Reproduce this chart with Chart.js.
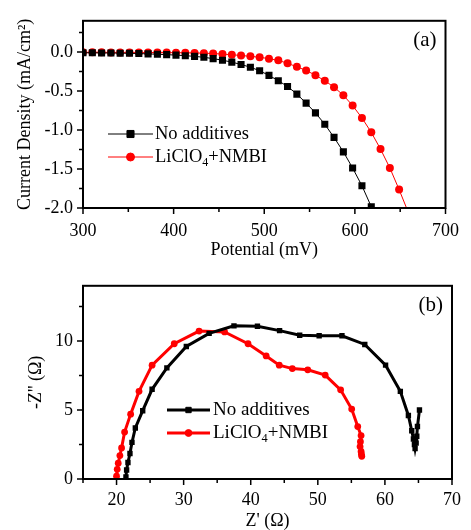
<!DOCTYPE html>
<html>
<head>
<meta charset="utf-8">
<script src="https://cdn.jsdelivr.net/npm/chart.js@4.4.0/dist/chart.umd.min.js"></script>
<style>
  html, body { margin: 0; padding: 0; background: #fff; }
  .panel { position: absolute; left: 0; width: 471px; height: 265px; }
  #jvPanel { top: 0; }
  #eisPanel { top: 265px; }
</style>
</head>
<body>
<div class="panel" id="jvPanel"><canvas id="jvChart" width="471" height="265"></canvas></div>
<div class="panel" id="eisPanel"><canvas id="eisChart" width="471" height="265"></canvas></div>
<script>
// J-V curves (a)
const jvPotential = [300.0, 310.3, 320.5, 330.8, 341.0, 351.3, 361.6, 371.8, 382.1, 392.3,
  402.6, 412.9, 423.1, 433.4, 443.6, 453.9, 464.2, 474.4, 484.7, 494.9,
  505.2, 515.5, 525.7, 536.0, 546.2, 556.5, 566.8, 577.0, 587.3, 597.5,
  607.8, 618.1, 628.3, 638.6, 648.8, 659.1];
const jvNoAdditives = [-0.010, -0.010, -0.012, -0.013, -0.015, -0.017, -0.020, -0.024, -0.029, -0.034,
  -0.040, -0.047, -0.056, -0.068, -0.085, -0.105, -0.130, -0.160, -0.195, -0.240,
  -0.300, -0.368, -0.442, -0.540, -0.655, -0.780, -0.927, -1.095, -1.280, -1.487,
  -1.715, -1.983];
const jvLiClO4 = [-0.004, -0.004, -0.004, -0.005, -0.005, -0.005, -0.006, -0.006, -0.007, -0.008,
  -0.009, -0.010, -0.012, -0.015, -0.020, -0.027, -0.035, -0.045, -0.055, -0.068,
  -0.085, -0.107, -0.145, -0.190, -0.236, -0.298, -0.368, -0.451, -0.554, -0.687,
  -0.845, -1.030, -1.245, -1.486, -1.764, -2.060];
const jvXTicks = [300, 400, 500, 600, 700];
const jvXMinor = [350, 450, 550, 650];
const jvYTicks = [-2.0, -1.5, -1.0, -0.5, 0.0];
const jvYMinor = [-1.75, -1.25, -0.75, -0.25, 0.25];

// Nyquist plots (b)
const eisNoAddRe = [21.4, 21.5, 21.7, 22.0, 22.3, 22.8, 23.9, 25.3, 27.5, 30.4,
  33.8, 37.5, 41.0, 44.3, 47.3, 50.2, 53.6, 57.0, 60.1, 62.3,
  63.5, 64.0, 64.25, 64.4, 64.5, 64.65, 64.75, 64.85, 65.15];
const eisNoAddIm = [0.15, 0.65, 1.2, 1.85, 2.65, 3.7, 4.95, 6.5, 8.05, 9.6,
  10.55, 11.1, 11.07, 10.75, 10.42, 10.38, 10.38, 9.75, 8.25, 6.35,
  4.6, 3.5, 2.9, 2.5, 2.2, 2.6, 3.1, 3.8, 5.0];
const eisLiRe = [20.0, 20.1, 20.25, 20.5, 20.75, 21.2, 22.1, 23.35, 25.3, 28.6,
  32.3, 36.1, 39.6, 42.3, 44.25, 46.2, 48.5, 51.1, 53.4, 55.05,
  55.95, 56.45, 56.35, 56.3, 56.45, 56.5, 56.55];
const eisLiIm = [0.2, 0.7, 1.15, 1.7, 2.25, 3.4, 4.7, 6.35, 8.25, 9.8,
  10.72, 10.66, 9.8, 8.92, 8.25, 8.0, 7.91, 7.53, 6.46, 5.07,
  3.8, 3.15, 2.7, 2.35, 2.0, 1.8, 1.65];
const eisXTicks = [20, 30, 40, 50, 60, 70];
const eisXMinor = [15, 25, 35, 45, 55, 65];
const eisYTicks = [0, 5, 10];
const eisYMinor = [2.5, 7.5, 12.5];

const seriesNames = ['No additives', 'LiClO4+NMBI'];

const SERIF = '"Liberation Serif", "Times New Roman", serif';
Chart.defaults.font.family = SERIF;
Chart.defaults.color = '#000';

// Box around the plot area, outward ticks (major + minor) and the panel tag
const framePlugin = {
  id: 'frame',
  afterDatasetsDraw(chart, args, opts) {
    const {ctx, chartArea: a} = chart;
    const xs = chart.scales.x, ys = chart.scales.y;
    ctx.save();
    ctx.strokeStyle = '#000';
    ctx.lineWidth = 2;
    ctx.strokeRect(a.left, a.top, a.right - a.left, a.bottom - a.top);
    ctx.lineWidth = 1.5;
    ctx.beginPath();
    const xTick = (v, len) => {
      const px = xs.getPixelForValue(v);
      ctx.moveTo(px, a.bottom);
      ctx.lineTo(px, a.bottom + len);
    };
    const yTick = (v, len) => {
      const py = ys.getPixelForValue(v);
      ctx.moveTo(a.left, py);
      ctx.lineTo(a.left - len, py);
    };
    opts.xMajor.forEach(v => xTick(v, 6));
    opts.xMinor.forEach(v => xTick(v, 4));
    opts.yMajor.forEach(v => yTick(v, 6));
    opts.yMinor.forEach(v => yTick(v, 4));
    ctx.stroke();
    ctx.fillStyle = '#000';
    ctx.font = '21px ' + SERIF;
    ctx.textAlign = 'right';
    ctx.textBaseline = 'middle';
    ctx.fillText(opts.tag, a.right - 9, a.top + 20);
    ctx.restore();
  }
};

// Legend drawn inside the plot, digits in the name become subscripts
const legendPlugin = {
  id: 'inlineLegend',
  afterDraw(chart, args, opts) {
    const {ctx} = chart;
    ctx.save();
    chart.data.datasets.forEach((ds, i) => {
      const y = opts.rows[i];
      ctx.strokeStyle = ds.borderColor;
      ctx.fillStyle = ds.backgroundColor;
      ctx.lineWidth = ds.borderWidth;
      ctx.beginPath();
      ctx.moveTo(opts.lineFrom, y);
      ctx.lineTo(opts.lineTo, y);
      ctx.stroke();
      ctx.lineWidth = 1;
      Chart.helpers.drawPoint(ctx, {
        pointStyle: ds.pointStyle, radius: ds.pointRadius, borderWidth: 1, rotation: 0
      }, (opts.lineFrom + opts.lineTo) / 2, y);

      ctx.fillStyle = '#000';
      ctx.textBaseline = 'middle';
      ctx.textAlign = 'left';
      let x = opts.textX;
      ds.label.split(/(\d)/).forEach(part => {
        if (!part) return;
        const sub = /^\d$/.test(part);
        ctx.font = (sub ? opts.fontSize * 0.65 : opts.fontSize) + 'px ' + SERIF;
        ctx.fillText(part, x, sub ? y + opts.fontSize * 0.3 : y);
        x += ctx.measureText(part).width;
      });
    });
    ctx.restore();
  }
};

function fixedTicks(values) {
  return scale => { scale.ticks = values.map(v => ({value: v})); };
}

function buildOptions(cfg) {
  return {
    responsive: false,
    animation: false,
    layout: {padding: cfg.padding},
    plugins: {
      legend: {display: false},
      tooltip: {enabled: false},
      frame: cfg.frame,
      inlineLegend: cfg.legend
    },
    scales: {
      x: {
        type: 'linear',
        min: cfg.xMin, max: cfg.xMax,
        afterBuildTicks: fixedTicks(cfg.frame.xMajor),
        afterFit: s => { s.height = cfg.xHeight; },
        grid: {display: false, drawTicks: false},
        border: {display: false},
        ticks: {padding: cfg.xPad, font: {size: 18}, maxRotation: 0, callback: v => String(v)},
        title: {display: true, text: cfg.xTitle, font: {size: 18, lineHeight: 1},
          padding: {top: 0, bottom: cfg.xTitlePad}}
      },
      y: {
        type: 'linear',
        min: cfg.yMin, max: cfg.yMax,
        afterBuildTicks: fixedTicks(cfg.frame.yMajor),
        afterFit: s => { s.width = 83; },
        grid: {display: false, drawTicks: false},
        border: {display: false},
        ticks: {padding: 10, font: {size: 18}, callback: cfg.yFormat},
        title: {display: true, text: cfg.yTitle, font: {size: 18, lineHeight: 1},
          padding: {top: cfg.yTitlePad, bottom: 0}}
      }
    }
  };
}

const toPoints = (xs, ys) => ys.map((v, i) => ({x: xs[i], y: v}));

new Chart(document.getElementById('jvChart'), {
  type: 'scatter',
  data: {
    datasets: [{
      label: seriesNames[0],
      data: toPoints(jvPotential, jvNoAdditives),
      showLine: true,
      borderColor: '#000', backgroundColor: '#000',
      borderWidth: 1,
      pointStyle: 'rect', pointRadius: 5, pointBorderWidth: 0
    }, {
      label: seriesNames[1],
      data: toPoints(jvPotential, jvLiClO4),
      showLine: true,
      borderColor: '#ff0000', backgroundColor: '#ff0000',
      borderWidth: 1,
      pointStyle: 'circle', pointRadius: 4, pointBorderWidth: 0
    }]
  },
  options: buildOptions({
    padding: {left: 0, top: 15, right: 14, bottom: 0},
    xMin: 300, xMax: 700, yMin: -2.0, yMax: 0.4,
    xHeight: 57, xPad: 12, xTitlePad: 6, yTitlePad: 16,
    xTitle: 'Potential (mV)',
    yTitle: 'Current Density (mA/cm²)',
    yFormat: v => v.toFixed(1),
    frame: {xMajor: jvXTicks, xMinor: jvXMinor, yMajor: jvYTicks, yMinor: jvYMinor, tag: '(a)'},
    legend: {lineFrom: 108, lineTo: 153, textX: 155, rows: [134, 157], fontSize: 18.5}
  }),
  plugins: [framePlugin, legendPlugin]
});

new Chart(document.getElementById('eisChart'), {
  type: 'scatter',
  data: {
    datasets: [{
      label: seriesNames[0],
      data: toPoints(eisNoAddRe, eisNoAddIm),
      showLine: true,
      borderColor: '#000', backgroundColor: '#000',
      borderWidth: 3,
      pointStyle: 'rect', pointRadius: 3.8, pointBorderWidth: 0
    }, {
      label: seriesNames[1],
      data: toPoints(eisLiRe, eisLiIm),
      showLine: true,
      borderColor: '#ff0000', backgroundColor: '#ff0000',
      borderWidth: 3,
      pointStyle: 'circle', pointRadius: 3.4, pointBorderWidth: 0
    }]
  },
  options: buildOptions({
    padding: {left: 0, top: 20, right: 15, bottom: 0},
    xMin: 15, xMax: 70, yMin: 0, yMax: 14,
    xHeight: 51, xPad: 10, xTitlePad: 0, yTitlePad: 27,
    xTitle: "Z' (Ω)",
    yTitle: "-Z'' (Ω)",
    yFormat: v => String(v),
    frame: {xMajor: eisXTicks, xMinor: eisXMinor, yMajor: eisYTicks, yMinor: eisYMinor, tag: '(b)'},
    legend: {lineFrom: 167, lineTo: 210, textX: 213, rows: [145, 168], fontSize: 19}
  }),
  plugins: [framePlugin, legendPlugin]
});
</script>
</body>
</html>
